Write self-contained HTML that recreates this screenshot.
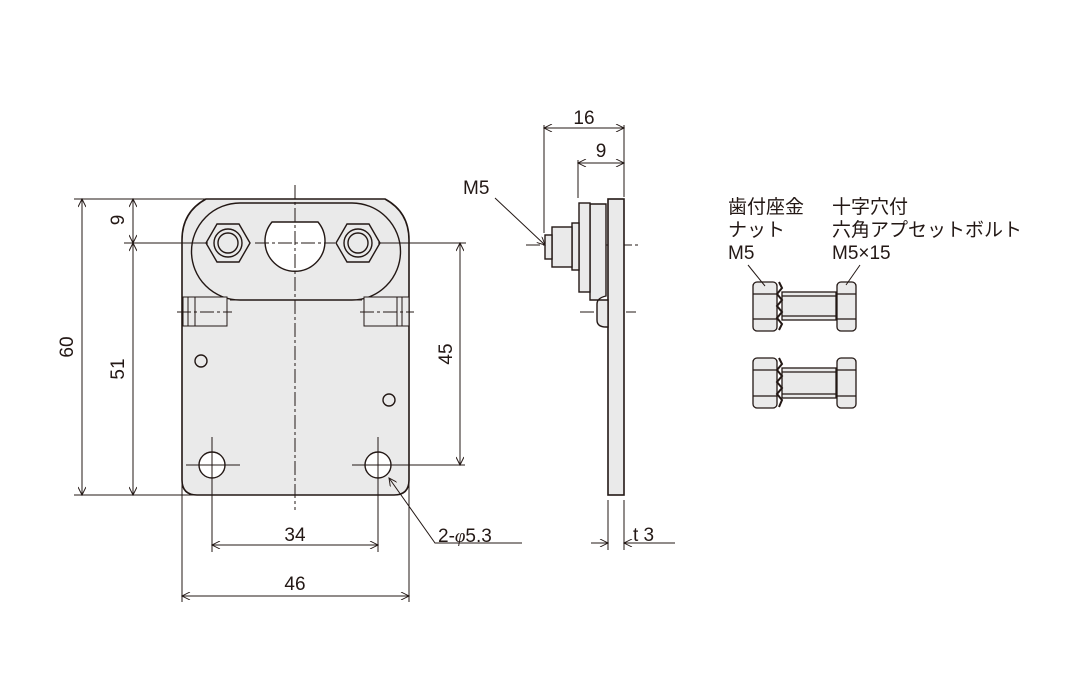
<!DOCTYPE html>
<html><head><meta charset="utf-8"><style>
html,body{margin:0;padding:0;background:#fff;width:1090px;height:700px;overflow:hidden}
text{font-family:"Liberation Sans","Noto Sans CJK JP",sans-serif;fill:#231815}
</style></head><body>
<svg width="1090" height="700" viewBox="0 0 1090 700" xmlns="http://www.w3.org/2000/svg">
<defs>
<marker id="a" viewBox="0 0 10 10" refX="10" refY="5" markerWidth="12" markerHeight="8" orient="auto-start-reverse" markerUnits="userSpaceOnUse"><path d="M0,0 L10,5 L0,10" fill="none" stroke="#231815" stroke-width="1.2"/></marker>
</defs>
<g stroke="#231815" stroke-width="1" fill="none">
<path d="M206,199 L385,199 Q409,212 409,240 L409,480 Q409,495 394,495 L197,495 Q182,495 182,480 L182,240 Q182,212 206,199 Z" fill="#eaeaea" stroke-width="1.6"/>
<path d="M240,203 L352,203 A48.5,48.5 0 0 1 352,300 L240,300 A48.5,48.5 0 0 1 240,203 Z" fill="#eaeaea" stroke-width="1.4"/>
<line x1="230" y1="300" x2="362" y2="300"/>
<g fill="#eaeaea" stroke-width="1.4">
<polygon points="250,243 239,224 217,224 206,243 217,262 239,262"/>
<polygon points="380,243 369,224 347,224 336,243 347,262 369,262"/>
<circle cx="228" cy="243" r="14"/><circle cx="228" cy="243" r="10"/>
<circle cx="358" cy="243" r="14"/><circle cx="358" cy="243" r="10"/>
</g>
<path d="M272,222 L318,222 A30,30 0 1 1 272,222 Z" fill="#fff" stroke-width="1.4"/>
<rect x="183" y="297" width="44" height="29" fill="#eaeaea"/><line x1="195" y1="297" x2="195" y2="326"/><line x1="188" y1="297" x2="188" y2="326"/>
<rect x="364" y="297" width="45" height="29" fill="#eaeaea"/><line x1="397" y1="297" x2="397" y2="326"/><line x1="402" y1="297" x2="402" y2="326"/>
<circle cx="201" cy="361" r="6" stroke-width="1.4"/><circle cx="389" cy="400" r="6" stroke-width="1.4"/>
<circle cx="212" cy="465" r="13" fill="#fff" stroke-width="1.4"/><circle cx="378" cy="465" r="13" fill="#fff" stroke-width="1.4"/>
<g stroke-dasharray="14,3,3,3">
<line x1="295" y1="185" x2="295" y2="510"/>
<line x1="255" y1="243" x2="335" y2="243"/>
<line x1="177" y1="312" x2="232" y2="312"/><line x1="360" y1="312" x2="414" y2="312"/>
<line x1="526" y1="245" x2="640" y2="245"/><line x1="580" y1="312" x2="636" y2="312"/>
</g>
<line x1="212" y1="437" x2="212" y2="493"/><line x1="186" y1="465" x2="240" y2="465"/>
<line x1="378" y1="437" x2="378" y2="493"/><line x1="352" y1="465" x2="465" y2="465"/>
<line x1="74" y1="199" x2="206" y2="199"/><line x1="74" y1="495" x2="197" y2="495"/>
<line x1="124" y1="243" x2="208" y2="243"/><line x1="378" y1="243" x2="466" y2="243"/>
<line x1="212" y1="493" x2="212" y2="552"/><line x1="378" y1="493" x2="378" y2="552"/>
<line x1="182" y1="480" x2="182" y2="602"/><line x1="409" y1="480" x2="409" y2="602"/>
<line x1="82" y1="199" x2="82" y2="495" marker-start="url(#a)" marker-end="url(#a)"/>
<line x1="133" y1="199" x2="133" y2="243" marker-start="url(#a)" marker-end="url(#a)"/>
<line x1="133" y1="243" x2="133" y2="495" marker-start="url(#a)" marker-end="url(#a)"/>
<line x1="460" y1="243" x2="460" y2="465" marker-start="url(#a)" marker-end="url(#a)"/>
<line x1="212" y1="545" x2="378" y2="545" marker-start="url(#a)" marker-end="url(#a)"/>
<line x1="182" y1="596" x2="409" y2="596" marker-start="url(#a)" marker-end="url(#a)"/>
<polyline points="522,543 435,543 389,478" marker-end="url(#a)"/>
<rect x="608" y="199" width="16" height="296" fill="#eaeaea" stroke-width="1.6"/>
<path d="M590,204 L606,204 L606,296 Q597,298 597,304 L597,320 Q597,327 606,327 L608,327 L608,300 L590,300 Z" fill="#eaeaea" stroke-width="1.4"/>
<rect x="579" y="203" width="11" height="89" fill="#eaeaea" stroke-width="1.4"/>
<rect x="572" y="223" width="7" height="47" fill="#eaeaea" stroke-width="1.4"/>
<rect x="552" y="227" width="20" height="40" fill="#eaeaea" stroke-width="1.4"/>
<rect x="545" y="235" width="7" height="24" fill="#eaeaea" stroke-width="1.4"/>
<line x1="544" y1="125" x2="544" y2="233"/><line x1="624" y1="125" x2="624" y2="197"/>
<line x1="578" y1="160" x2="578" y2="198"/>
<line x1="544" y1="128" x2="624" y2="128" marker-start="url(#a)" marker-end="url(#a)"/>
<line x1="578" y1="163" x2="624" y2="163" marker-start="url(#a)" marker-end="url(#a)"/>
<line x1="495" y1="198" x2="545" y2="245" marker-end="url(#a)"/>
<line x1="608" y1="500" x2="608" y2="550"/><line x1="624" y1="500" x2="624" y2="550"/>
<line x1="591" y1="543" x2="608" y2="543" marker-end="url(#a)"/>
<line x1="675" y1="543" x2="624" y2="543" marker-end="url(#a)"/>
<g fill="#eaeaea" stroke-width="1.3">
<rect x="753" y="282" width="24" height="49" rx="4"/><line x1="753" y1="294" x2="777" y2="294"/><line x1="753" y1="319" x2="777" y2="319"/>
<rect x="782" y="292" width="54" height="28"/><line x1="782" y1="296" x2="836" y2="296"/><line x1="782" y1="316" x2="836" y2="316"/>
<rect x="837" y="282" width="19" height="49" rx="4"/><line x1="837" y1="294" x2="856" y2="294"/><line x1="837" y1="319" x2="856" y2="319"/>
<path d="M779,282 l3,6 -5,6 5,6 -5,6 5,6 -5,6 5,6 -3,6" fill="none" stroke-width="2"/>
<rect x="753" y="358" width="24" height="50" rx="4"/><line x1="753" y1="370" x2="777" y2="370"/><line x1="753" y1="396" x2="777" y2="396"/>
<rect x="782" y="368" width="54" height="30"/><line x1="782" y1="372" x2="836" y2="372"/><line x1="782" y1="394" x2="836" y2="394"/>
<rect x="837" y="358" width="19" height="50" rx="4"/><line x1="837" y1="370" x2="856" y2="370"/><line x1="837" y1="396" x2="856" y2="396"/>
<path d="M779,358 l3,6 -5,6 5,6 -5,6 5,6 -5,6 5,6 -3,7" fill="none" stroke-width="2"/>
</g>
<line x1="748" y1="265" x2="765" y2="286"/><line x1="860" y1="265" x2="846" y2="285"/>
</g>
<g font-size="19">
<text x="68" y="347" transform="rotate(-90 68 347)" text-anchor="middle" dominant-baseline="middle">60</text>
<text x="119" y="369" transform="rotate(-90 119 369)" text-anchor="middle" dominant-baseline="middle">51</text>
<text x="119" y="220" transform="rotate(-90 119 220)" text-anchor="middle" dominant-baseline="middle">9</text>
<text x="447" y="354" transform="rotate(-90 447 354)" text-anchor="middle" dominant-baseline="middle">45</text>
<text x="295" y="541" text-anchor="middle">34</text>
<text x="295" y="590" text-anchor="middle">46</text>
<text x="584" y="124" text-anchor="middle">16</text>
<text x="601" y="157" text-anchor="middle">9</text>
<text x="463" y="194">M5</text>
<text x="438" y="542">2-<tspan font-family="Liberation Serif" font-style="italic">φ</tspan>5.3</text>
<text x="633" y="541">t 3</text>
<text x="728" y="213">歯付座金</text>
<text x="728" y="236">ナット</text>
<text x="728" y="259">M5</text>
<text x="832" y="213">十字穴付</text>
<text x="832" y="236">六角アプセットボルト</text>
<text x="832" y="259">M5×15</text>
</g>
</svg>
</body></html>
